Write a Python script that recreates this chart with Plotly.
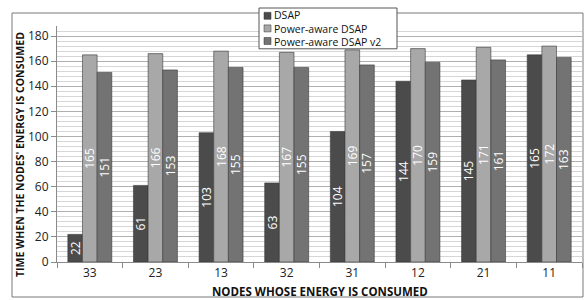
import plotly.graph_objects as go

categories = ["33", "23", "13", "32", "31", "12", "21", "11"]
dsap = [22, 61, 103, 63, 104, 144, 145, 165]
pa_dsap = [165, 166, 168, 167, 169, 170, 171, 172]
pa_dsap_v2 = [151, 153, 155, 155, 157, 159, 161, 163]
series_names = ["DSAP", "Power-aware DSAP", "Power-aware DSAP v2"]
series_colors = ["#4b4b4b", "#a8a8a8", "#737373"]

font_family = "Open Sans, Noto Sans, DejaVu Sans, sans-serif"

# plot area in pixels (for converting decoration positions to paper coords)
W, H = 585, 300
L, R, T, B = 57, 3, 26, 38
PW, PH = W - L - R, H - T - B


def px(xp):
    return (xp - L) / PW


def py(yp):
    return (H - B - yp) / PH


fig = go.Figure()
for name, vals, col in zip(series_names, [dsap, pa_dsap, pa_dsap_v2], series_colors):
    fig.add_trace(go.Bar(
        x=categories, y=vals, name=name,
        marker=dict(color=col, line=dict(width=0.6, color="#3a3a3a")),
        text=[str(v) for v in vals], textposition="inside",
        insidetextanchor="middle", textangle=-90,
        textfont=dict(color="white", size=12, family=font_family),
        showlegend=False,
    ))

shapes = [dict(
    type="rect", xref="paper", yref="paper",
    x0=px(12), x1=px(583), y0=py(297), y1=py(13),
    line=dict(color="#7a7a7a", width=1), layer="below",
)]
# legend box
leg_top, leg_row = 8, 12.6
shapes.append(dict(
    type="rect", xref="paper", yref="paper",
    x0=px(259), x1=px(397), y0=py(leg_top + 3 * leg_row + 3), y1=py(leg_top),
    line=dict(color="#555555", width=1), fillcolor="white", layer="above",
))
annotations = []
for i, col in enumerate(series_colors):
    ry = leg_top + 1.5 + leg_row * (i + 0.5)
    shapes.append(dict(
        type="rect", xref="paper", yref="paper",
        x0=px(264), x1=px(271), y0=py(ry + 3.5), y1=py(ry - 3.5),
        line=dict(color="#333333", width=0.5), fillcolor=col, layer="above",
    ))
annotations.append(dict(
    text="<br>".join(series_names), xref="paper", yref="paper",
    x=px(273), y=py(leg_top + 1.5 + 1.5 * leg_row), align="left",
    xanchor="left", yanchor="middle", showarrow=False, borderpad=0,
    font=dict(size=10.5, color="#111111", family=font_family),
))

annotations.append(dict(
    text="<b>NODES WHOSE ENERGY IS CONSUMED</b>", xref="paper", yref="paper",
    x=0.5, y=py(291), xanchor="center", yanchor="middle", showarrow=False,
    font=dict(size=11.5, color="#111111", family=font_family),
))
annotations.append(dict(
    text="<b>TIME WHEN THE NODES' ENERGY IS CONSUMED</b>", xref="paper", yref="paper",
    x=px(20), y=py(155), xanchor="center", yanchor="middle", showarrow=False,
    textangle=-90,
    font=dict(size=10.5, color="#111111", family=font_family),
))

fig.update_layout(
    width=W, height=H,
    margin=dict(l=L, r=R, t=T, b=B),
    paper_bgcolor="white", plot_bgcolor="white",
    barmode="group", bargap=0.33, bargroupgap=0.0,
    font=dict(family=font_family, size=12, color="#222222"),
    uniformtext=dict(minsize=11, mode="show"),
    showlegend=False,
    xaxis=dict(
        type="category", showgrid=False,
        showline=True, linecolor="#8a8a8a", linewidth=1,
        ticks="outside", tickson="boundaries", ticklen=5, tickcolor="#8a8a8a",
        tickfont=dict(size=12),
    ),
    yaxis=dict(
        range=[0, 188], dtick=20, tick0=0,
        showline=True, linecolor="#8a8a8a", linewidth=1,
        ticks="outside", ticklen=5, tickcolor="#8a8a8a",
        showgrid=True, gridcolor="#b0b0b0", gridwidth=1,
        minor=dict(dtick=4, showgrid=True, gridcolor="#d6d6d6", gridwidth=1),
        zeroline=False,
        tickfont=dict(size=12),
    ),
    shapes=shapes,
    annotations=annotations,
)

fig.write_html(
    "out.html",
    config={"displayModeBar": False},
    post_script="document.body.style.margin='0px';document.body.style.padding='0px';",
)
